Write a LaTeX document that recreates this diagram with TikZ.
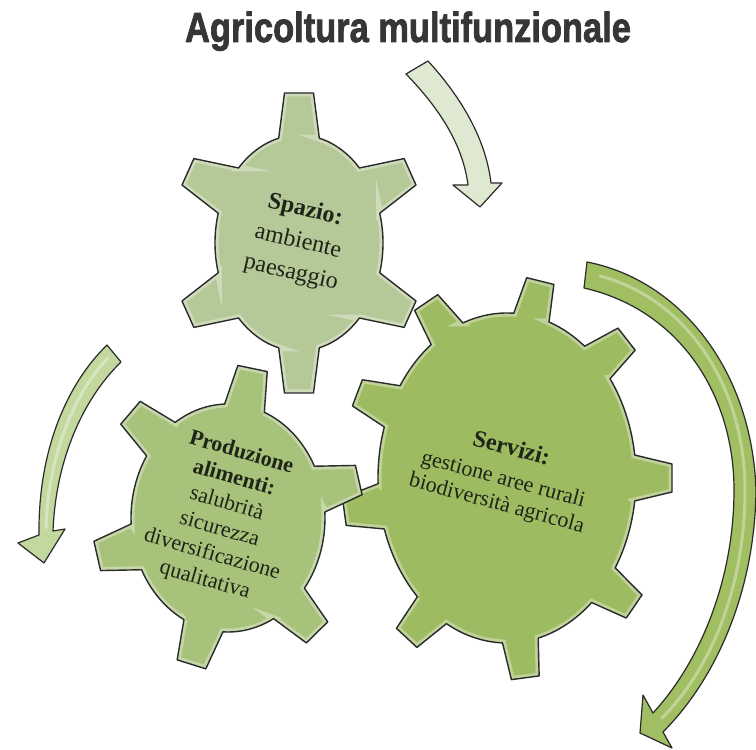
\documentclass[tikz,border=0pt]{standalone}
\usepackage{fontspec}
\setmainfont{Liberation Serif}
\setsansfont{Liberation Sans}
\newfontface\titlefont{Liberation Sans Bold}[FakeBold=2]
\definecolor{spz}{HTML}{B5C898}
\definecolor{prd}{HTML}{A7C27A}
\definecolor{srv}{HTML}{9DBB61}
\definecolor{outl}{HTML}{2A2A2A}
\definecolor{txtc}{HTML}{1E2418}
\definecolor{titlec}{HTML}{363636}
\definecolor{arrtop}{HTML}{DFE8D0}
\definecolor{arrleft}{HTML}{C3D89E}
\definecolor{arrright}{HTML}{A0BE62}
\newcommand\setgear[9]{\def\gcx{#1}\def\gcy{#2}\def\grx{#3}\def\gry{#4}\def\gh{#5}\def\gd{#6}\def\gw{#7}\def\gfirst{#8}\def\glist{#9}}
\newcommand\gearpath[1]{%
\path[#1] ({\gcx+\grx*cos(\gfirst-\gd)},{\gcy+\gry*sin(\gfirst-\gd)})
\foreach \a/\b in \glist {
 -- ({\gcx+\grx*cos(\a-\gd)},{\gcy+\gry*sin(\a-\gd)})
 -- ({\gcx+\grx*cos(\a)+(\gh*\gry*cos(\a)+\gw*\grx*sin(\a))/veclen(\gry*cos(\a),\grx*sin(\a))},{\gcy+\gry*sin(\a)+(\gh*\grx*sin(\a)-\gw*\gry*cos(\a))/veclen(\gry*cos(\a),\grx*sin(\a))})
 -- ({\gcx+\grx*cos(\a)+(\gh*\gry*cos(\a)-\gw*\grx*sin(\a))/veclen(\gry*cos(\a),\grx*sin(\a))},{\gcy+\gry*sin(\a)+(\gh*\grx*sin(\a)+\gw*\gry*cos(\a))/veclen(\gry*cos(\a),\grx*sin(\a))})
 -- ({\gcx+\grx*cos(\a+\gd)},{\gcy+\gry*sin(\a+\gd)})
 arc[start angle=\a+\gd, end angle=\b-\gd, x radius=\grx, y radius=\gry]
} -- cycle;}
\newcommand\drawgear[1]{%
 \gearpath{fill=#1}
 \begin{scope}\gearpath{clip}\gearpath{draw=white,line width=7pt,opacity=0.35}\end{scope}
 \gearpath{draw=outl,line width=1.4pt,line join=round}}
\tikzset{
 arrowshape/.style={draw=outl,line width=1.2pt,line join=round},
 geartext/.style={text=txtc,align=center,inner sep=0pt},
}
\begin{document}
\begin{tikzpicture}[x=10pt,y=10pt]
\useasboundingbox[fill=white] (0,0) rectangle (75.6,75);
% title
\node[font=\titlefont\fontsize{42}{42}\selectfont,text=titlec,xscale=0.82,anchor=base] (title) at (40.8,70.8) {Agricoltura multifunzionale};
% arrows (image pixel coordinates)
\begin{scope}[x=1pt,y=-1pt,yshift=750pt]
 \path[arrowshape,fill=arrtop] (406,74) -- (428,61) .. controls (462,98) and (486,140) .. (491,183) -- (502,183) -- (480,207) -- (453,185) -- (468,185) .. controls (463,146) and (441,110) .. (406,74) -- cycle;
 \path[arrowshape,fill=arrleft] (107,345) -- (121,362) .. controls (86,396) and (56,455) .. (53,531) -- (65,529) -- (44,563) -- (18,543) -- (39,535) .. controls (38,450) and (67,384) .. (107,345) -- cycle;
 \path[arrowshape,fill=arrright] (587,262) .. controls (680,280) and (752,370) .. (756,490) .. controls (755,590) and (717,678) .. (663,732) -- (672,748) -- (640,733) -- (643,695) -- (653,713) .. controls (700,662) and (734,580) .. (734,490) .. controls (734,395) and (680,310) .. (584,288) -- cycle;
 \draw[white,opacity=0.35,line width=3pt,line cap=round] (600,276) .. controls (690,300) and (745,390) .. (745,490) .. controls (745,585) and (712,668) .. (662,718);
 \draw[white,opacity=0.35,line width=3pt,line cap=round] (108,358) .. controls (75,392) and (48,455) .. (46,528);
\end{scope}
% gears
\setgear{50.7}{27.2}{12.9}{16.5}{3.6}{8}{1.4}{0}{0/45,45/79,79/118,118/154,154/190,190/234,234/276,276/319,319/360}
\drawgear{srv}
\setgear{22.8}{23.2}{9.7}{11.4}{3.8}{12}{1.5}{15}{15/80,80/135,135/195,195/255,255/310,310/375}
\drawgear{prd}
\setgear{29.9}{50.7}{8.4}{10.8}{4.2}{14}{1.45}{30}{30/90,90/150,150/210,210/270,270/330,330/390}
\drawgear{spz}
% texts
\node[geartext,rotate=-13,font=\fontsize{24}{32}\selectfont] (spazio) at (29.8,50.8) {\textbf{Spazio:}\\ambiente\\paesaggio};
\node[geartext,rotate=-16,font=\fontsize{22}{26.5}\selectfont] (produzione) at (22.3,23.3) {\textbf{Produzione}\\\textbf{alimenti:}\\salubrità\\sicurezza\\diversificazione\\qualitativa};
\node[geartext,rotate=-15,font=\fontsize{22}{25}\selectfont] (servizi) at (50.4,27.35) {\textbf{\fontsize{24}{25}\selectfont Servizi:}\\[6pt]gestione aree rurali\\biodiversità agricola};
\end{tikzpicture}
\end{document}
